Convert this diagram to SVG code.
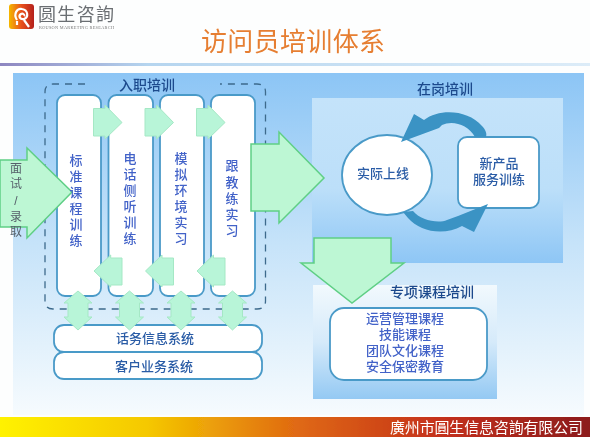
<svg xmlns="http://www.w3.org/2000/svg" width="590" height="437" viewBox="0 0 590 437">
<style>
text{font-family:"Liberation Sans","Noto Sans CJK SC","Noto Sans CJK TC",sans-serif}
.lab{font-size:13px;fill:#4262c8;text-anchor:middle;font-weight:500}
.head{font-size:14px;fill:#1c4a8c;text-anchor:middle;font-weight:500}
.dk{font-size:13px;fill:#2a5ca6;text-anchor:middle;font-weight:500}
.card{fill:#fff;stroke:#4a9ac8;stroke-width:1.8}
.arr{fill:#bdf7d4;stroke:#5fcf85;stroke-width:1.5;stroke-linejoin:miter}
.sm{fill:#b8f5d8;stroke:#a5e8c5;stroke-width:1}
.cyc{fill:#3a93c4}
</style>
<defs>
<filter id="soft" x="0" y="0" width="100%" height="100%"><feGaussianBlur stdDeviation="0.4"/></filter>
<linearGradient id="bg" x1="0" y1="0" x2="0" y2="1"><stop offset="0" stop-color="#8cc5f5"/><stop offset=".5" stop-color="#c6e3f9"/><stop offset="1" stop-color="#f6fbfe"/></linearGradient>
<linearGradient id="post" x1="0" y1="0" x2="0" y2="1"><stop offset="0" stop-color="#c4e3fa"/><stop offset=".55" stop-color="#bcdff9"/><stop offset="1" stop-color="#8ec6f5"/></linearGradient>
<linearGradient id="spec" x1="0" y1="0" x2="0" y2="1"><stop offset="0" stop-color="#f2f9fd"/><stop offset=".5" stop-color="#d5eafa"/><stop offset="1" stop-color="#94c9f3"/></linearGradient>
<linearGradient id="rule" x1="0" y1="0" x2="1" y2="0"><stop offset="0" stop-color="#8d86c0"/><stop offset=".25" stop-color="#b5d5ef"/><stop offset="1" stop-color="#dcecf8"/></linearGradient>
<linearGradient id="foot" x1="0" y1="0" x2="1" y2="0"><stop offset="0" stop-color="#fff200"/><stop offset=".25" stop-color="#f5c800"/><stop offset=".5" stop-color="#e06a12"/><stop offset=".75" stop-color="#c4301c"/><stop offset="1" stop-color="#8c1c1c"/></linearGradient>
<linearGradient id="logo" x1="0" y1="0" x2="1" y2="0"><stop offset="0" stop-color="#f5b800"/><stop offset=".5" stop-color="#e8501c"/><stop offset="1" stop-color="#b4201c"/></linearGradient>
</defs>
<g filter="url(#soft)">
<rect width="590" height="437" fill="#fdfefe"/>
<g id="logo-mark">
<rect x="9" y="4" width="25" height="25" rx="3" fill="url(#logo)"/>
<path d="M17 25V21M17 20C13 14 17 8 22 9C28 10 29 17 24 19C20 20 18 16 21 14C23 13 25 15 24 16M24 20L29 27" fill="none" stroke="#fff" stroke-width="2.2"/>
</g>
<text x="38" y="21" font-size="18" fill="#6a6e72" textLength="76">圆生咨詢</text>
<text x="39" y="28.500" font-size="4.3" fill="#777" textLength="75" style="font-family:'Liberation Serif',serif">ROUSON MARKETING RESEARCH</text>
<text x="293" y="51" font-size="26" fill="#e67e30" text-anchor="middle" textLength="184">访问员培训体系</text>
<rect x="0" y="63" width="590" height="3" fill="url(#rule)"/>
<rect x="13" y="73" width="571" height="342" fill="url(#bg)"/>
<rect x="0" y="417" width="590" height="20" fill="url(#foot)"/>
<text x="390" y="433" font-size="15" fill="#fff" textLength="193">廣州市圓生信息咨詢有限公司</text>

<path id="intake-frame" d="M85 84H53Q45 84 45 92V301Q45 309 53 309H257Q265.500 309 265.500 301V92Q265.500 84 257 84H220" fill="none" stroke="#3d6a8c" stroke-width="1.3" stroke-dasharray="7 6"/>
<text class="head" x="147" y="90">入职培训</text>

<g id="card-1"><rect class="card" x="57" y="95" width="44" height="201" rx="8"/></g>
<g id="card-2"><rect class="card" x="108.500" y="95" width="44.500" height="201" rx="8"/>
<text class="lab"><tspan x="130" y="163">电</tspan><tspan x="130" y="179">话</tspan><tspan x="130" y="195">侧</tspan><tspan x="130" y="211">听</tspan><tspan x="130" y="227">训</tspan><tspan x="130" y="243">练</tspan></text></g>
<g id="card-3"><rect class="card" x="160" y="95" width="44" height="201" rx="8"/>
<text class="lab"><tspan x="181" y="163">模</tspan><tspan x="181" y="179">拟</tspan><tspan x="181" y="195">环</tspan><tspan x="181" y="211">境</tspan><tspan x="181" y="227">实</tspan><tspan x="181" y="243">习</tspan></text></g>
<g id="card-4"><rect class="card" x="211" y="95" width="44" height="201" rx="8"/>
<text class="lab"><tspan x="232" y="170">跟</tspan><tspan x="232" y="187">教</tspan><tspan x="232" y="203">练</tspan><tspan x="232" y="219">实</tspan><tspan x="232" y="235">习</tspan></text></g>

<g id="system-1"><rect class="card" x="54" y="325" width="208" height="27" rx="10"/><text class="dk" x="155" y="343">话务信息系统</text></g>
<g id="system-2"><rect class="card" x="54" y="352" width="208" height="27" rx="10"/><text class="dk" x="154" y="371">客户业务系统</text></g>

<g id="onjob"><rect x="312" y="98" width="251" height="165" fill="url(#post)"/></g>
<text class="head" x="445" y="94">在岗培训</text>
<g id="online"><ellipse class="card" cx="387" cy="175" rx="45" ry="40"/><text class="dk" x="383" y="178">实际上线</text></g>
<g id="newprod"><rect class="card" x="458" y="137" width="81" height="71" rx="9"/><text class="dk"><tspan x="499" y="168">新产品</tspan><tspan x="499" y="184">服务训练</tspan></text></g>

<g id="special"><rect x="313" y="285" width="184" height="114" fill="url(#spec)"/>
<rect class="card" x="330" y="308" width="157" height="72" rx="14" stroke-width="2"/>
<text class="head" x="432" y="297">专项课程培训</text>
<text class="lab"><tspan x="405" y="323">运营管理课程</tspan><tspan x="405" y="339">技能课程</tspan><tspan x="405" y="355">团队文化课程</tspan><tspan x="405" y="371">安全保密教育</tspan></text></g>

<g id="connectors">
<path class="sm" d="M93.500 108.500H105V105L122 122.500L105 139V136H93.500Z"/>
<path class="sm" d="M145 108.500H156.500V105L173.500 122.500L156.500 139V136H145Z"/>
<path class="sm" d="M196.500 108.500H208V105L225 122.500L208 139V136H196.500Z"/>
<path class="sm" d="M122 258H110.700V255L94 271L110.700 287V285H122Z"/>
<path class="sm" d="M173.500 258H162V255L145.500 271L162 287V285H173.500Z"/>
<path class="sm" d="M225 258H213.500V255L197 271L213.500 287V285H225Z"/>
<path class="sm" d="M78 291L92 303H88V317H92L78 330L64 317H68V303H64Z"/>
<path class="sm" d="M129.500 291L143.500 303H139.500V317H143.500L129.500 330L115.500 317H119.500V303H115.500Z"/>
<path class="sm" d="M181 291L195 303H191V317H195L181 330L167 317H171V303H167Z"/>
<path class="sm" d="M232.500 291L246.500 303H242.500V317H246.500L232.500 330L218.500 317H222.500V303H218.500Z"/>
<path class="arr" d="M0 160H27V148L72 192L27 238V227H0Z"/>
<path class="arr" d="M251 144H279V132L324 178L279 223V211H251Z"/>
<path class="arr" d="M314 238H391V263H404L352 303L301 263H314Z"/>
<path class="cyc" d="M401 142L414 114L424 120C440 108 468 110 482 126C486 130 487 134 486 137H475C468 124 452 120 442 125L439 128Z"/>
<path class="cyc" d="M488 204L474 232L462 226C444 236 420 232 408 218L403 212L413 211C420 220 438 224 447 220L458 216Z"/>
</g>

<g id="card-1-label"><text class="lab"><tspan x="76" y="165">标</tspan><tspan x="76" y="181">准</tspan><tspan x="76" y="197">课</tspan><tspan x="76" y="213">程</tspan><tspan x="76" y="229">训</tspan><tspan x="76" y="245">练</tspan></text></g>
<g id="intake-label"><text font-size="12" fill="#55606a" text-anchor="middle"><tspan x="16" y="173">面</tspan><tspan x="16" y="188">试</tspan><tspan x="16" y="205">/</tspan><tspan x="16" y="221">录</tspan><tspan x="16" y="236">取</tspan></text></g>
</g>
</svg>
